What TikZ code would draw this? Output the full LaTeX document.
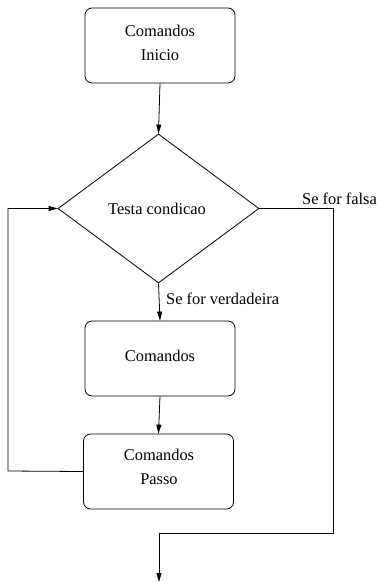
\documentclass[tikz,border=0pt]{standalone}
\usepackage{fontspec}
\setmainfont{Liberation Serif}
\usetikzlibrary{shapes.geometric,arrows.meta}
\begin{document}
\begin{tikzpicture}[x=1pt,y=-1pt,
  every node/.style={font=\fontsize{16.4pt}{20pt}\selectfont},
  box/.style={draw, rounded corners=7pt, minimum width=150pt, minimum height=75pt, inner sep=0pt, line width=0.8pt},
  txt/.style={inner sep=0pt},
  conn/.style={line width=0.8pt},
  arr/.style={conn, -{Triangle[length=9pt,width=5pt]}}]
\useasboundingbox (0,0) rectangle (380,583);
\node[box] (b1) at (160,45.5) {};
\node[txt] (t1a) at (160,31) {Comandos};
\node[txt] (t1b) at (160,55) {Inicio};
\node[draw, diamond, minimum width=201pt, minimum height=149pt, inner sep=0pt, line width=0.8pt] (d) at (158.5,208.5) {};
\node[txt] (dt) at (157,209) {Testa condicao};
\node[box] (b2) at (160,358.5) {};
\node[txt] (t2) at (160,356) {Comandos};
\node[box] (b3) at (158.5,471.5) {};
\node[txt] (t3a) at (159,455) {Comandos};
\node[txt] (t3b) at (159,479) {Passo};
\coordinate (cl) at (8,471);
\coordinate (cr) at (333,533);
\coordinate (fim) at (159,582);
\draw[arr] (b1.south) -- (d.north);
\draw[arr] (d.south) -- (b2.north);
\node[txt, anchor=west] (lv) at (166,299) {Se for verdadeira};
\draw[arr] (b2.south) -- (b3.north);
\draw[arr] (b3.west) -- (cl) |- (d.west);
\draw[arr] (d.east) -| (cr) -| (fim);
\node[txt, anchor=west] (lf) at (302,199) {Se for falsa};
\end{tikzpicture}
\end{document}
